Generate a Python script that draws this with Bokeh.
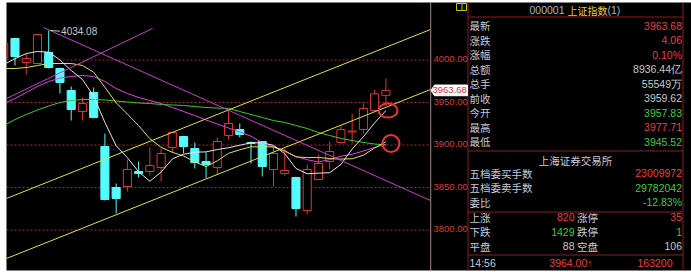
from bokeh.plotting import figure
from bokeh.layouts import row
from bokeh.models import Range1d, Grid
from bokeh.core.properties import value
from bokeh.embed import file_html
from bokeh.resources import INLINE

# ---------------- data ----------------
idx = list(range(-1, 34))
open_ = [4002.4, 4024.7, 3996.5, 3995.3, 4008.2, 3989.4, 3963.5, 3938.8, 3961.2, 3897.6,
         3849.4, 3850.6, 3868.2, 3868.2, 3872.9, 3896.5, 3909.4, 3895.3, 3880.0, 3872.9,
         3910.6, 3917.6, 3902.4, 3903.5, 3870.6, 3865.9, 3861.2, 3822.4, 3858.8, 3880.0,
         3902.4, 3914.7, 3917.6, 3940.0, 3957.83]
high_ = [4021.0, 4025.5, 4007.1, 4030.0, 4034.08, 3990.2, 3968.2, 3955.3, 3967.1, 3912.9,
         3854.1, 3882.4, 3880.0, 3896.5, 3895.3, 3915.0, 3910.2, 3902.4, 3890.6, 3908.2,
         3940.0, 3924.7, 3903.5, 3904.0, 3897.6, 3895.3, 3862.0, 3876.5, 3888.2, 3903.5,
         3922.4, 3936.5, 3948.2, 3964.7, 3977.71]
low_ = [3999.0, 3992.9, 3982.4, 3994.5, 3989.5, 3960.0, 3928.2, 3928.2, 3930.8, 3834.1,
        3818.8, 3844.7, 3861.2, 3863.5, 3856.5, 3890.6, 3889.4, 3871.8, 3860.0, 3864.7,
        3905.9, 3908.2, 3877.6, 3862.4, 3850.6, 3863.5, 3815.3, 3817.6, 3858.0, 3870.6,
        3901.0, 3901.2, 3912.9, 3939.0, 3945.52]
close_ = [4018.8, 4003.5, 4001.2, 4029.4, 3990.6, 3972.9, 3941.2, 3948.2, 3931.8, 3835.3,
          3836.5, 3870.6, 3865.9, 3875.3, 3889.4, 3914.1, 3897.6, 3878.8, 3876.5, 3903.5,
          3924.7, 3911.8, 3901.2, 3874.1, 3889.4, 3869.4, 3824.7, 3870.6, 3877.6, 3891.8,
          3917.6, 3915.9, 3942.4, 3959.62, 3963.68]
ma5 = [3994.0, 4001.0, 4007.0, 4009.4, 4008.7, 3999.5, 3987.1, 3976.5, 3956.9, 3925.9,
       3898.6, 3884.5, 3868.0, 3856.7, 3867.5, 3883.1, 3888.5, 3891.0, 3891.3, 3894.1,
       3896.2, 3899.1, 3902.0, 3902.0, 3899.0, 3889.2, 3871.8, 3865.6, 3866.3, 3866.8,
       3876.5, 3894.7, 3909.1, 3925.5, 3939.8]
ma10 = [3989.4, 3989.4, 3990.6, 3992.9, 3995.3, 3995.3, 3995.3, 3993.0, 3985.0, 3967.3,
        3949.1, 3935.8, 3922.2, 3906.8, 3896.7, 3890.8, 3886.5, 3879.5, 3874.0, 3880.8,
        3889.6, 3893.8, 3897.3, 3897.2, 3897.2, 3892.7, 3885.4, 3884.6, 3884.7, 3883.5,
        3882.8, 3883.2, 3887.4, 3895.9, 3903.3]
ma20 = [3948.2, 3954.1, 3961.2, 3968.2, 3974.1, 3978.2, 3980.0, 3981.2, 3980.0, 3974.1,
        3965.9, 3960.0, 3955.3, 3951.8, 3948.2, 3943.5, 3938.8, 3934.1, 3928.8, 3924.1,
        3919.4, 3914.8, 3909.8, 3902.0, 3896.9, 3891.8, 3885.9, 3882.1, 3879.4, 3882.2,
        3886.2, 3888.5, 3892.3, 3896.5, 3900.3]
ma60 = [3922.4, 3929.4, 3935.3, 3940.6, 3945.3, 3949.4, 3951.8, 3952.9, 3952.9, 3952.4,
        3951.2, 3950.0, 3948.8, 3948.2, 3947.1, 3946.5, 3945.9, 3944.7, 3943.5, 3942.9,
        3942.4, 3938.8, 3935.3, 3931.8, 3928.2, 3925.9, 3922.4, 3918.8, 3914.1, 3910.6,
        3907.1, 3904.7, 3902.4, 3900.6, 3899.4]
price_ticks = [4000, 3950, 3900, 3850, 3800]

# drawn lines (bar index, price)
channel_k = [-0.756, 36.97]
channel_upper = [3836.5, 4035.3]
channel_lower = [3765.9, 3964.7]
trend_up_k = [-0.756, 12.23]
trend_up_p = [3954.1, 4036.5]
trend_dn_k = [2.54, 36.97]
trend_dn_p = [4037.6, 3834.1]
mark_k = [33.19, 33.45]
mark_p = [3940.0, 3901.2]
peak_k = 3
peak_p = 4034.08

# quote panel
title_code = "000001"
title_name = "上证指数"
title_tail = "(1)"
quote_labels = ["最新", "涨跌", "涨幅", "总额", "总手", "前收", "今开", "最高", "最低"]
quote_values = ["3963.68", "4.06", "0.10%", "8936.44亿", "55549万", "3959.62", "3957.83", "3977.71", "3945.52"]
quote_sign = [1, 1, 1, 0, 0, 0, -1, 1, -1]
exchange = "上海证券交易所"
book_labels = ["五档委买手数", "五档委卖手数", "委比"]
book_values = ["23009972", "29782042", "-12.83%"]
book_sign = [1, -1, -1]
breadth_labels = ["上涨", "下跌", "平盘"]
breadth_values = [820, 1429, 88]
limit_labels = ["涨停", "跌停", "空盘"]
limit_values = [35, 1, 106]
breadth_sign = [1, -1, 0]
tick_time = "14:56"
tick_price = "3964.00↑"
tick_volume = "163200"

# ---------------- styles ----------------
RED = "#ee3c3c"
CANDLE_RED = "#e03434"
CYAN = "#54fcfc"
GREEN = "#3ccc3c"
GREY = "#c8c8c8"
LABEL = "#c4cad8"
DARKRED = "#8c1c1c"
GRIDRED = "#a82a2a"
SIGN_COLOR = {1: RED, -1: GREEN, 0: GREY}
CJK = value("Noto Sans CJK SC")
NUM = value("Liberation Sans")
FS = "10.5px"


def no_grid(p):
    for g in p.select({"type": Grid}):
        g.visible = False
        g.grid_line_color = None


x_range = Range1d(-0.756, 36.97)
y_range = Range1d(3751.76, 4067.06)
p1 = figure(width=430, height=272, x_range=x_range, y_range=y_range, output_backend="svg",
            toolbar_location=None, x_axis_location=None, y_axis_location=None,
            min_border_left=6, min_border_right=0, min_border_top=2, min_border_bottom=2,
            background_fill_color="black", border_fill_color="white",
            outline_line_color=None)
no_grid(p1)

# dotted price grid (nudged half a pixel so the dots stay crisp)
half_px = 0.5 * (y_range.end - y_range.start) / 268
p1.segment(x0=[x_range.start] * len(price_ticks), y0=[t - half_px for t in price_ticks],
           x1=[x_range.end] * len(price_ticks), y1=[t - half_px for t in price_ticks],
           line_color=GRIDRED, line_dash="2 2", line_width=1)

up = [i for i in range(len(idx)) if close_[i] >= open_[i]]
dn = [i for i in range(len(idx)) if close_[i] < open_[i]]


def pick(arr, ids):
    return [arr[i] for i in ids]


# wicks
p1.segment(x0=pick(idx, up), y0=pick(low_, up), x1=pick(idx, up), y1=pick(high_, up),
           line_color=CANDLE_RED, line_width=1)
p1.segment(x0=pick(idx, dn), y0=pick(low_, dn), x1=pick(idx, dn), y1=pick(high_, dn),
           line_color=CYAN, line_width=1)
# bodies
p1.vbar(x=pick(idx, up), width=0.72,
        top=[max(open_[i], close_[i]) for i in up],
        bottom=[min(open_[i], close_[i]) for i in up],
        fill_color="black", line_color=CANDLE_RED, line_width=1)
p1.vbar(x=pick(idx, dn), width=0.72,
        top=[max(open_[i], close_[i]) for i in dn],
        bottom=[min(open_[i], close_[i]) for i in dn],
        fill_color=CYAN, line_color=CYAN, line_width=1)

# moving averages
p1.line(idx, ma60, line_color="#2ed02e", line_width=1)
p1.line(idx, ma20, line_color="#e040e0", line_width=1)
p1.line(idx, ma10, line_color="#e0e050", line_width=1)
p1.line(idx, ma5, line_color="#e4e4e4", line_width=1)

# drawn lines
p1.line(channel_k, channel_upper, line_color="#e0e040", line_width=1)
p1.line(channel_k, channel_lower, line_color="#e0e040", line_width=1)
p1.line(trend_up_k, trend_up_p, line_color="#c83cd0", line_width=1)
p1.line(trend_dn_k, trend_dn_p, line_color="#c83cd0", line_width=1)

# marks
p1.ellipse(x=mark_k, y=mark_p, width=[1.69, 1.51], height=[16.5, 20.0],
           fill_alpha=0, line_color="#f03232", line_width=2)

# peak label
p1.segment(x0=[peak_k + 0.12], y0=[peak_p], x1=[peak_k + 1.0], y1=[peak_p - 0.8],
           line_color=GREY, line_width=1)
p1.text(x=[peak_k + 1.1], y=[peak_p - 0.8], text=[f"{peak_p:.2f}"], text_color=GREY,
        text_font=NUM, text_font_size="10px", text_baseline="middle", text_align="left")

# ---------------- right panel ----------------
p2 = figure(width=261, height=272, x_range=Range1d(430, 691), y_range=y_range,
            output_backend="svg", toolbar_location=None,
            x_axis_location=None, y_axis_location=None,
            min_border_left=0, min_border_right=0, min_border_top=2, min_border_bottom=2,
            background_fill_color="black", border_fill_color="white",
            outline_line_color=None)
no_grid(p2)
p2.extra_y_ranges = {"px": Range1d(270, 2)}

# frame lines
p2.segment(x0=[430.5, 467.5, 682.5], y0=[2, 2, 2], x1=[430.5, 467.5, 682.5], y1=[270, 270, 270],
           y_range_name="px", line_color=DARKRED, line_width=1)
p2.segment(x0=[467.5] * 4, y0=[16.5, 150.5, 211.5, 254.5], x1=[682.5] * 4,
           y1=[16.5, 150.5, 211.5, 254.5], y_range_name="px", line_color=DARKRED, line_width=1)

# price axis labels
p2.text(x=[433] * len(price_ticks), y=price_ticks, text=[f"{t:.2f}" for t in price_ticks],
        text_color="#d83c3c", text_font=NUM, text_font_size="9.5px",
        text_baseline="middle", text_align="left")

# last price tag
lc = close_[-1]
p2.patch(x=[430.5, 434, 467, 467, 434], y=[lc, lc + 6.3, lc + 6.3, lc - 6.3, lc - 6.3],
         fill_color="white", line_color="white")
p2.text(x=[432], y=[lc], text=[f"{lc:.2f}"], text_color="#e03030", text_font=NUM,
        text_font_size="9.5px", text_baseline="middle", text_align="left")

# small yellow button
p2.quad(left=[456], right=[466], top=[3], bottom=[10], y_range_name="px",
        fill_alpha=0, line_color="#c8c800", line_width=1)
p2.segment(x0=[461.5], y0=[3], x1=[461.5], y1=[10], y_range_name="px",
           line_color="#c8c800", line_width=1)

# title
p2.text(x=[529], y=[9.5], text=[title_code], y_range_name="px", text_color="#a8b4cc",
        text_font=NUM, text_font_size=FS, text_baseline="middle", text_align="left")
p2.text(x=[567], y=[9.5], text=[title_name], y_range_name="px", text_color="#e0c850",
        text_font=CJK, text_font_size="10px", text_baseline="middle", text_align="left")
p2.text(x=[607], y=[9.5], text=[title_tail], y_range_name="px", text_color="#a8b4cc",
        text_font=NUM, text_font_size=FS, text_baseline="middle", text_align="left")

row_y = [25 + 14.5 * i for i in range(len(quote_labels))]
p2.text(x=[469] * len(quote_labels), y=row_y, text=quote_labels, y_range_name="px",
        text_color=LABEL, text_font=CJK, text_font_size=FS, text_baseline="middle",
        text_align="left")
p2.text(x=[681.5] * len(quote_values), y=row_y, text=quote_values, y_range_name="px",
        text_color=[SIGN_COLOR[s] for s in quote_sign], text_font=NUM, text_font_size=FS,
        text_baseline="middle", text_align="right")

p2.text(x=[575], y=[159.5], text=[exchange], y_range_name="px", text_color=LABEL,
        text_font=CJK, text_font_size=FS, text_baseline="middle", text_align="center")

book_y = [172.5 + 14.5 * i for i in range(len(book_labels))]
p2.text(x=[469] * len(book_labels), y=book_y, text=book_labels, y_range_name="px",
        text_color=LABEL, text_font=CJK, text_font_size=FS, text_baseline="middle",
        text_align="left")
p2.text(x=[681.5] * len(book_values), y=book_y, text=book_values, y_range_name="px",
        text_color=[SIGN_COLOR[s] for s in book_sign], text_font=NUM, text_font_size=FS,
        text_baseline="middle", text_align="right")

br_y = [216.5 + 14.5 * i for i in range(len(breadth_labels))]
p2.text(x=[469] * 3, y=br_y, text=breadth_labels, y_range_name="px", text_color=LABEL,
        text_font=CJK, text_font_size=FS, text_baseline="middle", text_align="left")
p2.text(x=[574] * 3, y=br_y, text=[str(v) for v in breadth_values], y_range_name="px",
        text_color=[SIGN_COLOR[s] for s in breadth_sign], text_font=NUM, text_font_size=FS,
        text_baseline="middle", text_align="right")
p2.text(x=[576.5] * 3, y=br_y, text=limit_labels, y_range_name="px", text_color=LABEL,
        text_font=CJK, text_font_size=FS, text_baseline="middle", text_align="left")
p2.text(x=[681.5] * 3, y=br_y, text=[str(v) for v in limit_values], y_range_name="px",
        text_color=[SIGN_COLOR[s] for s in breadth_sign], text_font=NUM, text_font_size=FS,
        text_baseline="middle", text_align="right")

p2.text(x=[469], y=[262.5], text=[tick_time], y_range_name="px", text_color=LABEL,
        text_font=NUM, text_font_size=FS, text_baseline="middle", text_align="left")
p2.text(x=[592], y=[262.5], text=[tick_price], y_range_name="px", text_color=RED,
        text_font=NUM, text_font_size=FS, text_baseline="middle", text_align="right")
p2.text(x=[672], y=[262.5], text=[tick_volume], y_range_name="px", text_color=RED,
        text_font=NUM, text_font_size=FS, text_baseline="middle", text_align="right")

layout = row(p1, p2)
open("out.html", "w").write(file_html(layout, INLINE))
